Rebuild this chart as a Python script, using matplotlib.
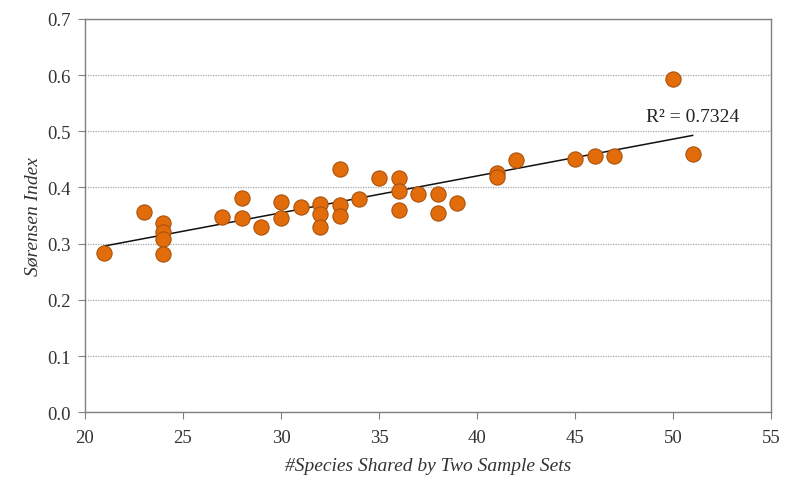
import numpy as np
import matplotlib
matplotlib.use("Agg")
import matplotlib.pyplot as plt

shared_species = [21, 23, 24, 24, 24, 24, 27, 28, 28, 29, 30, 30, 31, 32, 32, 32,
                  33, 33, 33, 34, 35, 36, 36, 36, 37, 38, 38, 39, 41, 41, 42,
                  45, 46, 47, 50, 51]
sorensen = [0.284, 0.357, 0.337, 0.320, 0.309, 0.281, 0.348, 0.382, 0.346, 0.329,
            0.375, 0.345, 0.366, 0.370, 0.352, 0.330, 0.433, 0.368, 0.350, 0.380,
            0.416, 0.416, 0.393, 0.359, 0.389, 0.389, 0.355, 0.373, 0.425, 0.418,
            0.448, 0.451, 0.456, 0.456, 0.593, 0.460]
r2_label = "R\u00b2 = 0.7324"
x_ticks = [20, 25, 30, 35, 40, 45, 50, 55]
y_ticks = [0.0, 0.1, 0.2, 0.3, 0.4, 0.5, 0.6, 0.7]

plt.rcParams['font.family'] = ['Liberation Serif', 'DejaVu Serif']

fig = plt.figure(figsize=(7.86, 4.85), dpi=100)
ax = fig.add_axes([0.108, 0.148, 0.873, 0.811])

x = np.array(shared_species, dtype=float)
y = np.array(sorensen)
slope, intercept = np.polyfit(x, y, 1)
xl = np.array([x.min(), x.max()])
ax.plot(xl, slope * xl + intercept, color='#111111', lw=1.1, zorder=2)

ax.scatter(x, y, s=120, color='#E36C0A', edgecolors='#A9530F', linewidths=0.8, zorder=3)

ax.text(48.6, 0.527, r2_label, fontsize=14, va='center', ha='left', color='#222222')

ax.set_xlim(20, 55)
ax.set_ylim(0, 0.7)
ax.set_xticks(x_ticks)
ax.set_yticks(y_ticks)
ax.set_yticklabels([f"{v:.1f}" for v in y_ticks])
ax.yaxis.grid(True, linestyle=(0, (1, 1)), color='#a8a8a8', lw=0.9)
ax.set_axisbelow(True)
for s in ax.spines.values():
    s.set_color('#808080')
    s.set_linewidth(1.0)
ax.tick_params(axis='both', direction='out', length=5, color='#808080', labelsize=13.5,
               labelcolor='#333333')
ax.tick_params(axis='x', pad=7)
ax.tick_params(axis='y', pad=5)

ax.set_xlabel("#Species Shared by Two Sample Sets", fontsize=14, style='italic',
              color='#333333', labelpad=8)
ax.set_ylabel("S\u00f8rensen Index", fontsize=14, style='italic', color='#333333',
              labelpad=4)

fig.savefig("out.png", dpi=100)
